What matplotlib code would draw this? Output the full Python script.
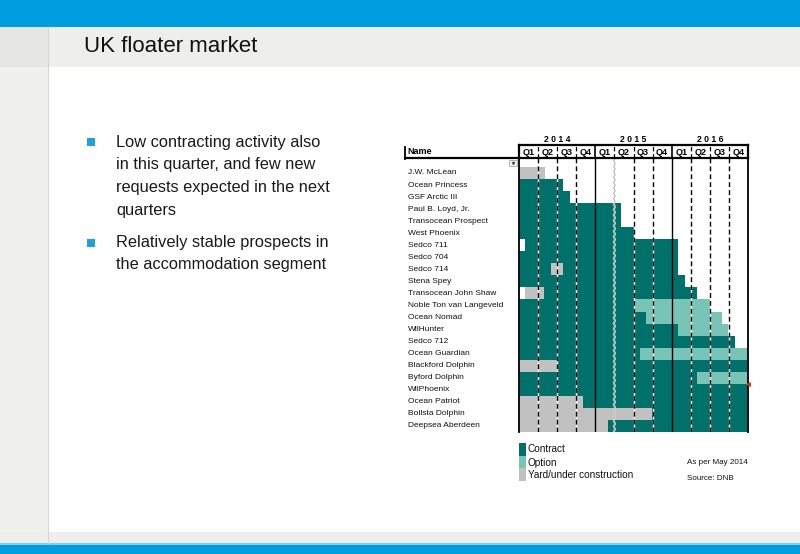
import numpy as np
import matplotlib
matplotlib.use("Agg")
from matplotlib import pyplot as plt
from matplotlib.patches import Rectangle
from matplotlib.lines import Line2D
from matplotlib import transforms

plt.rcParams['font.family'] = ['Liberation Sans', 'DejaVu Sans']

W, H = 800, 554

# quarters on the time axis, 0 = start of 2014 Q1
years = ['2014', '2015', '2016']
quarters = ['Q1', 'Q2', 'Q3', 'Q4'] * 3

names = ['J.W. McLean', 'Ocean Princess', 'GSF Arctic III', 'Paul B. Loyd, Jr.',
         'Transocean Prospect', 'West Phoenix', 'Sedco 711', 'Sedco 704',
         'Sedco 714', 'Stena Spey', 'Transocean John Shaw',
         'Noble Ton van Langeveld', 'Ocean Nomad', 'WilHunter', 'Sedco 712',
         'Ocean Guardian', 'Blackford Dolphin', 'Byford Dolphin', 'WilPhoenix',
         'Ocean Patriot', 'Bollsta Dolphin', 'Deepsea Aberdeen']

# (rig, start quarter, end quarter)
contract = [
    ('Ocean Princess', 0, 2.32),
    ('GSF Arctic III', 0, 2.67),
    ('Paul B. Loyd, Jr.', 0, 5.34),
    ('Transocean Prospect', 0, 5.34),
    ('West Phoenix', 0, 6.0),
    ('Sedco 711', 0.31, 8.34),
    ('Sedco 704', 0, 8.34),
    ('Sedco 714', 0, 1.66),
    ('Sedco 714', 2.32, 8.34),
    ('Stena Spey', 0, 8.69),
    ('Transocean John Shaw', 1.31, 9.31),
    ('Noble Ton van Langeveld', 0, 6.0),
    ('Ocean Nomad', 0, 6.65),
    ('WilHunter', 0, 8.34),
    ('Sedco 712', 0, 11.33),
    ('Ocean Guardian', 0, 6.34),
    ('Blackford Dolphin', 2.0, 12),
    ('Byford Dolphin', 0, 9.31),
    ('WilPhoenix', 0, 12),
    ('Ocean Patriot', 3.33, 12),
    ('Bollsta Dolphin', 6.95, 12),
    ('Deepsea Aberdeen', 4.66, 12),
]
option = [
    ('Noble Ton van Langeveld', 6.0, 10.0),
    ('Ocean Nomad', 6.65, 10.64),
    ('WilHunter', 8.34, 10.96),
    ('Ocean Guardian', 6.34, 12),
    ('Byford Dolphin', 9.31, 12),
]
yard = [
    ('J.W. McLean', 0, 1.36),
    ('Sedco 714', 1.66, 2.32),
    ('Transocean John Shaw', 0.31, 1.31),
    ('Blackford Dolphin', 0, 2.0),
    ('Ocean Patriot', 0, 3.33),
    ('Bollsta Dolphin', 0, 6.95),
    ('Deepsea Aberdeen', 0, 4.66),
]

bullets = [
    ['Low contracting activity also', 'in this quarter, and few new',
     'requests expected in the next', 'quarters'],
    ['Relatively stable prospects in', 'the accommodation segment'],
]

BLUE = '#009ee0'
TEAL = '#00706a'
LTEAL = '#78c5b7'
GREY = '#c1c1c1'


def fx(x):
    return x / W


def fy(y):
    return 1 - y / H


def rect(fig, x0, y0, x1, y1, color, **kw):
    fig.patches.append(Rectangle((fx(x0), fy(y1)), (x1 - x0) / W, (y1 - y0) / H,
                                 transform=fig.transFigure, facecolor=color,
                                 edgecolor='none', **kw))


def hline(fig, x0, x1, y, **kw):
    fig.lines.append(Line2D([fx(x0), fx(x1)], [fy(y), fy(y)], transform=fig.transFigure, **kw))


def vline(fig, x, y0, y1, **kw):
    fig.lines.append(Line2D([fx(x), fx(x)], [fy(y0), fy(y1)], transform=fig.transFigure, **kw))


fig = plt.figure(figsize=(W / 100, H / 100), dpi=100)
fig.patch.set_facecolor('white')

# slide frame
rect(fig, 0, 0, W, 27, BLUE)
rect(fig, 0, 27, W, 67, '#eeeeea')
rect(fig, 0, 27, 48, 67, '#e6e6e2')
rect(fig, 0, 67, 48, 532, '#f0f0ec')
rect(fig, 0, 532, W, 543, '#eeeeea')
rect(fig, 0, 543, W, 544.5, '#80cff0')
rect(fig, 0, 544.5, W, H, BLUE)
vline(fig, 48, 27, 543, color='#d6d6d2', lw=0.8)

fig.text(fx(84), fy(47), 'UK floater market', fontsize=16, va='center', ha='left', color='#111111')

# bullets
line_y = [[142, 165, 188, 210], [243, 265]]
for lines, ys in zip(bullets, line_y):
    rect(fig, 87, ys[0] - 4, 95, ys[0] + 4, '#1ea3d9')
    for txt, y in zip(lines, ys):
        fig.text(fx(116), fy(y), txt, fontsize=11.8, va='center', ha='left', color='#1a1a1a')

# gantt axes
x_left, x_right, y_top, y_bot = 519, 748, 158, 432
ax = fig.add_axes([fx(x_left), fy(y_bot), (x_right - x_left) / W, (y_bot - y_top) / H])
ax.set_xlim(0, 12)
ax.set_ylim(21.5, -1.245)
ax.axis('off')

for segs, col in [(contract, TEAL), (option, LTEAL), (yard, GREY)]:
    rows = [names.index(s[0]) for s in segs]
    starts = [s[1] for s in segs]
    widths = [s[2] - s[1] for s in segs]
    ax.barh(rows, widths, left=starts, height=1.0, color=col, linewidth=0, antialiased=False)

for b in range(1, 12):
    if b in (4, 8):
        ax.axvline(b, color='black', lw=1.0)
    elif b == 5:
        yy = np.linspace(-1.245, 21.5, 800)
        xx = b + 0.035 * np.sin(yy * 2 * np.pi / 0.45)
        ax.plot(xx, yy, color='white', lw=1.4, alpha=0.8)
        ax.plot(xx, yy, color='#9a9a9a', lw=0.6)
    else:
        ax.axvline(b, color='white', lw=1.0)
        ax.axvline(b, color='black', lw=1.0, dashes=(3.5, 2.2))
ax.axvline(0, color='black', lw=1.3, clip_on=False)
ax.axvline(12, color='black', lw=1.3, clip_on=False)
ax.plot(12, 17.55, marker='<', color='#c0392b', ms=2.5, clip_on=False)

label_tf = transforms.blended_transform_factory(fig.transFigure, ax.transData)
for i, n in enumerate(names):
    ax.text(fx(408), i, n, transform=label_tf, fontsize=6, va='center', ha='left', color='#111111')

# header with quarters
hx = fig.add_axes([fx(x_left), fy(158), (x_right - x_left) / W, 13 / H])
hx.set_xlim(0, 12)
hx.set_ylim(0, 1)
hx.set_xticks([])
hx.set_yticks([])
for s in hx.spines.values():
    s.set_linewidth(1.6)
for i, q in enumerate(quarters):
    hx.text(i + 0.5, 0.45, q, fontsize=6.5, fontweight='bold', ha='center', va='center')
for b in range(1, 12):
    if b in (4, 8):
        hx.axvline(b, color='black', lw=1.2)
    else:
        hx.axvline(b, color='black', lw=0.9, dashes=(3.5, 2.2))
for k, yr in enumerate(years):
    fig.text(fx(x_left + (4 * k + 2) * (x_right - x_left) / 12), fy(139), ' '.join(yr),
             fontsize=6.2, fontweight='bold', ha='center', va='center')

fig.text(fx(407), fy(152), 'Name', fontsize=6.5, fontweight='bold', ha='left', va='center')
hline(fig, 405, x_left, 158, color='black', lw=1.6)
vline(fig, 405, 147, 158.5, color='black', lw=1.3)

# small filter box
fig.patches.append(Rectangle((fx(509), fy(166)), 8 / W, 6 / H, transform=fig.transFigure,
                             facecolor='#f4f4f4', edgecolor='#9a9a9a', lw=0.5))
fig.lines.append(Line2D([fx(513)], [fy(163)], transform=fig.transFigure, marker='v',
                        ms=1.6, color='#555555'))

# legend
for (lbl, col), y0 in zip([('Contract', TEAL), ('Option', LTEAL), ('Yard/under construction', GREY)],
                          [443, 456, 468]):
    rect(fig, 519, y0, 526, y0 + 12.5, col)
    fig.text(fx(528), fy(y0 + 6.5), lbl, fontsize=7.2, ha='left', va='center', color='#111111')

fig.text(fx(687), fy(463), 'As per May 2014', fontsize=5.8, ha='left', va='center', color='#111111')
fig.text(fx(687), fy(479), 'Source: DNB', fontsize=5.8, ha='left', va='center', color='#111111')

fig.savefig('out.png', dpi=100)
